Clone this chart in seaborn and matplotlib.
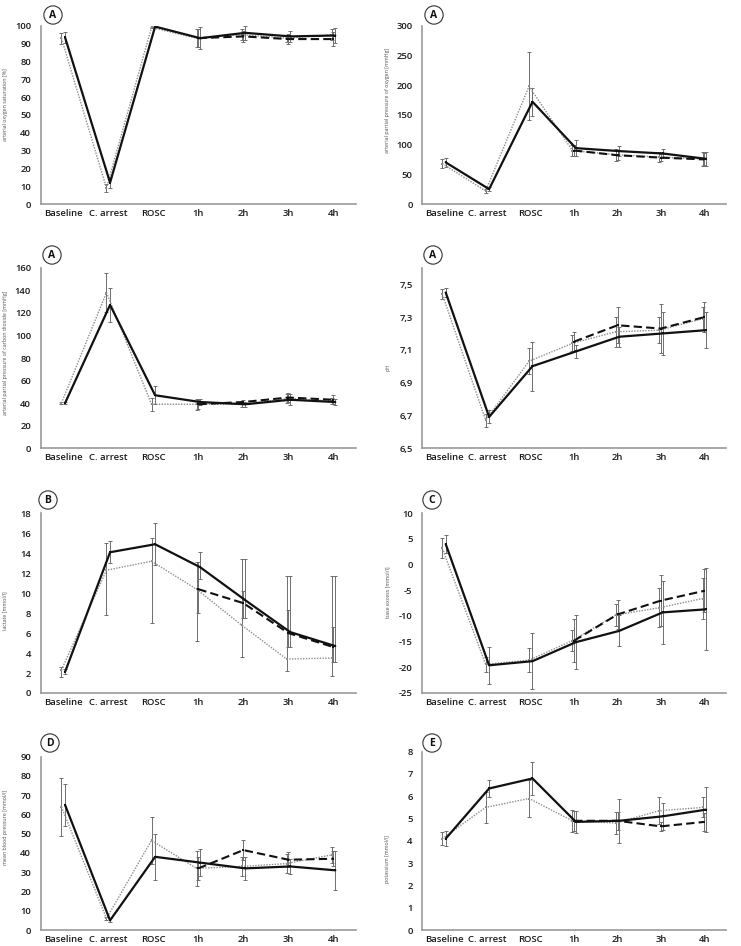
import numpy as np
import pandas as pd
import matplotlib
matplotlib.use("Agg")
import matplotlib.pyplot as plt
import seaborn as sns
from matplotlib.ticker import FuncFormatter

categories = ["Baseline", "C. arrest", "ROSC", "1h", "2h", "3h", "4h"]
NA = np.nan

# ---- panel data: solid (group 1), dashed (group 2, from 1h), dotted (group 3)
# errors: symmetric half-widths, or (lower bound, upper bound) lists
sao2_solid = [93.5, 12, 99.5, 93, 96, 94, 94.5]
sao2_dashed = [NA, NA, NA, 93, 94, 92.5, 92.5]
sao2_dotted = [93, 9, 99, 93, 95, 93, 95]
sao2_err_solid = [3, 3, 0.5, 6, 4, 3, 4]
sao2_err_dashed = [NA, NA, NA, 5, 3, 3, 4]
sao2_err_dotted = [3, 2, 0.5, 5, 3, 2, 3]

pao2_solid = [70, 25, 172, 94, 89, 85, 76]
pao2_dashed = [NA, NA, NA, 90, 82, 78, 75]
pao2_dotted = [68, 22, 198, 90, 83, 79, 76]
pao2_err_solid = [7, 3, 24, 14, 9, 7, 12]
pao2_err_dashed = [NA, NA, NA, 10, 8, 6, 10]
pao2_err_dotted = [8, 3, 57, 10, 10, 8, 12]

paco2_solid = [40, 127, 47, 41, 39, 43, 41]
paco2_dashed = [NA, NA, NA, 39, 41, 45, 43]
paco2_dotted = [40, 138, 39, 39, 39, 44, 42]
paco2_err_solid = [1, 15, 8, 3, 2, 5, 3]
paco2_err_dashed = [NA, NA, NA, 4, 2, 4, 4]
paco2_err_dotted = [1, 17, 6, 5, 2, 4, 3]

ph_solid = [7.45, 6.69, 7.00, 7.09, 7.18, 7.20, 7.22]
ph_dashed = [NA, NA, NA, 7.15, 7.25, 7.23, 7.30]
ph_dotted = [7.44, 6.67, 7.03, 7.14, 7.21, 7.22, 7.29]
ph_err_solid = [0.03, 0.04, 0.15, 0.04, 0.06, 0.13, 0.11]
ph_err_dashed = [NA, NA, NA, 0.06, 0.11, 0.15, 0.09]
ph_err_dotted = [0.03, 0.04, 0.08, 0.05, 0.09, 0.08, 0.07]

lact_solid = [2.1, 14.1, 14.9, 12.6, 9.3, 6.1, 4.7]
lact_dashed = [NA, NA, NA, 10.4, 9.0, 6.0, 4.6]
lact_dotted = [2.3, 12.3, 13.2, 10.4, 6.8, 3.4, 3.5]
lact_lo_solid = [1.9, 13.0, 12.8, 11.4, 7.5, 4.6, 3.1]
lact_hi_solid = [2.4, 15.2, 17.0, 14.1, 13.4, 11.7, 11.7]
lact_lo_dashed = [NA, NA, NA, 8.0, 7.5, 4.6, 3.1]
lact_hi_dashed = [NA, NA, NA, 13.1, 10.2, 8.3, 6.6]
lact_lo_dotted = [1.6, 7.8, 7.0, 5.2, 3.6, 2.2, 1.7]
lact_hi_dotted = [2.6, 15.0, 15.5, 13.1, 13.4, 11.7, 11.7]

be_solid = [4.0, -19.6, -18.8, -15.1, -12.9, -9.3, -8.7]
be_dashed = [NA, NA, NA, -14.8, -9.7, -7.0, -5.1]
be_dotted = [3.2, -19.4, -18.6, -14.8, -9.8, -8.4, -6.6]
be_err_solid = [1.8, 3.6, 5.5, 5.3, 3.0, 6.2, 8.0]
be_err_dashed = [NA, NA, NA, 4.2, 2.9, 5.0, 4.2]
be_err_dotted = [2.0, 1.5, 2.3, 2.0, 2.2, 3.8, 4.0]

map_solid = [65, 5, 38, 35, 32, 33, 31]
map_dashed = [NA, NA, NA, 32, 41.5, 36.5, 37]
map_dotted = [64, 6, 46.5, 32, 33, 34.5, 39]
map_err_solid = [11, 1, 12, 7, 6, 4, 10]
map_err_dashed = [NA, NA, NA, 6, 5, 4, 4]
map_err_dotted = [15, 1, 12, 9, 5, 5, 4]

k_solid = [4.1, 6.35, 6.8, 4.85, 4.9, 5.1, 5.4]
k_dashed = [NA, NA, NA, 4.9, 4.9, 4.65, 4.85]
k_dotted = [4.1, 5.5, 5.9, 4.9, 4.8, 5.35, 5.5]
k_err_solid = [0.35, 0.4, 0.75, 0.5, 1.0, 0.6, 1.0]
k_err_dashed = [NA, NA, NA, 0.45, 0.4, 0.2, 0.4]
k_err_dotted = [0.3, 0.7, 0.85, 0.5, 0.5, 0.6, 0.45]

panel_letters = ["A", "A", "A", "A", "B", "C", "D", "E"]
ylabels = ["arterial oxygen saturation [%]",
           "arterial partial pressure of oxygen [mmHg]",
           "arterial partial pressure of carbon dioxide [mmHg]",
           "pH",
           "lactate [mmol/l]",
           "base excess [mmol/l]",
           "mean blood pressure [mmol/l]",
           "potassium [mmol/l]"]

panels = [
    (sao2_solid, sao2_dashed, sao2_dotted, sao2_err_solid, sao2_err_dashed, sao2_err_dotted),
    (pao2_solid, pao2_dashed, pao2_dotted, pao2_err_solid, pao2_err_dashed, pao2_err_dotted),
    (paco2_solid, paco2_dashed, paco2_dotted, paco2_err_solid, paco2_err_dashed, paco2_err_dotted),
    (ph_solid, ph_dashed, ph_dotted, ph_err_solid, ph_err_dashed, ph_err_dotted),
    (lact_solid, lact_dashed, lact_dotted,
     (lact_lo_solid, lact_hi_solid), (lact_lo_dashed, lact_hi_dashed), (lact_lo_dotted, lact_hi_dotted)),
    (be_solid, be_dashed, be_dotted, be_err_solid, be_err_dashed, be_err_dotted),
    (map_solid, map_dashed, map_dotted, map_err_solid, map_err_dashed, map_err_dotted),
    (k_solid, k_dashed, k_dotted, k_err_solid, k_err_dashed, k_err_dotted),
]


def to_yerr(vals, errs):
    v = np.asarray(vals, dtype=float)
    if isinstance(errs, tuple):
        lo, hi = (np.asarray(e, dtype=float) for e in errs)
        return np.vstack([v - lo, hi - v])
    return np.asarray(errs, dtype=float)


# ---- layout / style (pixels in a 741x946 canvas)
W, H = 741, 946
sns.set_theme(style="white")
plt.rcParams['font.family'] = ['Open Sans', 'DejaVu Sans']

fig = plt.figure(figsize=(W / 100, H / 100), dpi=100)

col_x = [(40.7, 356.0), (422.3, 726.0)]
row_y = [[(25.7, 204.0), (25.7, 204.0)],
         [(267.7, 448.3), (268.0, 448.0)],
         [(513.3, 693.0), (513.3, 693.0)],
         [(756.7, 930.0), (751.7, 930.0)]]
ylims = [(0, 100), (0, 300), (0, 160), (6.5, 7.6), (0, 18), (-25, 10), (0, 90), (0, 8)]
yticks = [np.arange(0, 101, 10), np.arange(0, 301, 50), np.arange(0, 161, 20),
          np.arange(6.5, 7.51, 0.2), np.arange(0, 19, 2), np.arange(-25, 11, 5),
          np.arange(0, 91, 10), np.arange(0, 9, 1)]
ylabel_y = [0.56, 0.58, 0.53, 0.45, 0.46, 0.56, 0.59, 0.40]
circle_pos = [(53, 15), (434, 15), (52, 255), (433, 255), (48, 500), (432, 500), (50, 743), (432, 743)]

offsets = {"solid": 0.04, "dashed": 0.0, "dotted": -0.04}
xpos = np.arange(len(categories))

for i, (s, d, o, es, ed, eo) in enumerate(panels):
    r, c = divmod(i, 2)
    x0, x1 = col_x[c]
    yt, yb = row_y[r][c]
    ax = fig.add_axes([x0 / W, 1 - yb / H, (x1 - x0) / W, (yb - yt) / H])

    series = [
        ("dotted", o, eo, dict(color="#8c8c8c", lw=1.0, linestyle=(0, (1, 1)))),
        ("dashed", d, ed, dict(color="#111111", lw=1.5, linestyle=(0, (4, 2)))),
        ("solid", s, es, dict(color="#111111", lw=1.6, linestyle="-")),
    ]
    for name, vals, errs, st in series:
        xp = xpos + offsets[name]
        ax.errorbar(xp, vals, yerr=to_yerr(vals, errs), fmt="none", ecolor="#6e6e6e",
                    elinewidth=0.7, capsize=1.3, capthick=0.7, zorder=2)
        df = pd.DataFrame({"x": xp, "y": vals}).dropna()
        sns.lineplot(data=df, x="x", y="y", ax=ax, errorbar=None, sort=False,
                     color=st["color"], linewidth=st["lw"], linestyle=st["linestyle"],
                     marker="s", markersize=2, markeredgewidth=0,
                     markerfacecolor=st["color"], zorder=3)

    ax.set_xlim(-0.5, 6.5)
    ax.set_ylim(*ylims[i])
    ax.set_xticks(xpos, labels=categories)
    ax.set_yticks(yticks[i])
    if i == 3:
        ax.yaxis.set_major_formatter(FuncFormatter(lambda v, p: f"{v:.1f}".replace(".", ",")))
    else:
        ax.yaxis.set_major_formatter(FuncFormatter(lambda v, p: f"{v:.0f}"))
    ax.tick_params(axis="both", length=0, labelsize=6.8, labelcolor="#1a1a1a")
    ax.tick_params(axis="x", pad=3.5)
    ax.tick_params(axis="y", pad=7)
    for lab in ax.get_xticklabels() + ax.get_yticklabels():
        lab.set_fontweight("semibold")
    ax.set_xlabel("")
    ax.set_ylabel(ylabels[i], fontsize=3.8, color="#505050")
    ax.yaxis.set_label_coords(-0.105, ylabel_y[i])
    for sp in ["top", "right"]:
        ax.spines[sp].set_visible(False)
    for sp in ["left", "bottom"]:
        ax.spines[sp].set_color("#9a9a9a")
        ax.spines[sp].set_linewidth(1.2)
    ax.set_facecolor("white")

    cx, cy = circle_pos[i]
    fig.text(cx / W, 1 - cy / H, panel_letters[i], ha="center", va="center",
             fontsize=7.5, fontweight="bold", color="#111111",
             bbox=dict(boxstyle="circle,pad=0.35", fc="white", ec="#333333", lw=0.8))

fig.savefig("out.png", dpi=100, facecolor="white")
